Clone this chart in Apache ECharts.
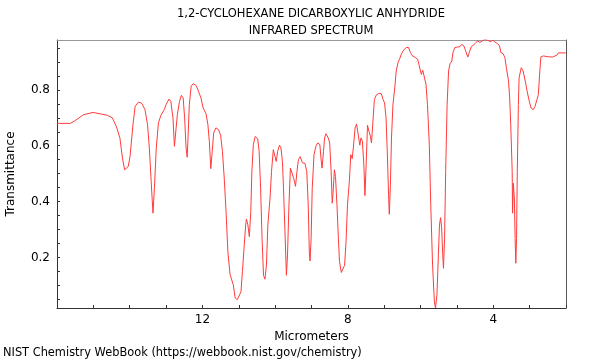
<!DOCTYPE html>
<html>
<head>
<meta charset="utf-8">
<script src="https://cdn.jsdelivr.net/npm/echarts@6/dist/echarts.min.js"></script>
<style>html,body{margin:0;padding:0;background:#fff}#c{width:600px;height:360px}</style>
</head>
<body>
<div id="c"></div>
<script>
// Wavelength (micrometers) and transmittance
const wavelength = [
16.00,15.63,15.50,15.27,15.01,14.81,14.62,14.48,14.37,14.27,14.20,14.14,14.09,14.04,13.99,
13.91,13.85,13.76,13.67,13.58,13.51,13.46,13.41,13.36,13.32,13.27,13.21,13.14,13.05,13.00,
12.92,12.87,12.81,12.77,12.73,12.69,12.63,12.58,12.53,12.49,12.45,12.42,12.40,12.36,12.31,
12.25,12.17,12.11,12.04,11.98,11.90,11.85,11.81,11.77,11.73,11.69,11.63,11.56,11.50,11.45,
11.40,11.35,11.30,11.24,11.19,11.15,11.10,11.04,10.99,10.94,10.90,10.85,10.81,10.79,10.75,
10.71,10.67,10.64,10.60,10.55,10.48,10.44,10.40,10.36,10.32,10.28,10.24,10.20,10.14,10.10,
10.05,10.01,9.97,9.93,9.88,9.84,9.80,9.77,9.73,9.69,9.66,9.62,9.58,9.55,9.49,
9.44,9.40,9.36,9.31,9.25,9.18,9.13,9.09,9.06,9.04,9.01,8.98,8.93,8.88,8.83,
8.77,8.74,8.71,8.67,8.64,8.60,8.54,8.50,8.46,8.43,8.41,8.37,8.34,8.30,8.26,
8.23,8.18,8.14,8.09,8.05,8.01,7.96,7.92,7.88,7.85,7.80,7.76,7.73,7.67,7.64,
7.60,7.56,7.53,7.49,7.46,7.42,7.38,7.35,7.31,7.27,7.22,7.15,7.08,7.03,6.99,
6.95,6.91,6.88,6.86,6.83,6.80,6.76,6.71,6.67,6.62,6.58,6.53,6.48,6.40,6.33,
6.28,6.22,6.14,6.08,6.03,5.98,5.94,5.90,5.85,5.81,5.76,5.72,5.67,5.62,5.59,
5.55,5.51,5.48,5.45,5.42,5.39,5.37,5.34,5.31,5.27,5.23,5.19,5.14,5.11,5.06,
4.98,4.92,4.87,4.81,4.76,4.70,4.66,4.61,4.56,4.50,4.43,4.37,4.30,4.23,4.16,
4.08,4.01,3.95,3.88,3.83,3.79,3.73,3.68,3.64,3.58,3.55,3.52,3.48,3.47,3.45,
3.42,3.40,3.38,3.36,3.34,3.31,3.29,3.23,3.18,3.12,3.07,3.01,2.96,2.90,2.85,
2.80,2.76,2.72,2.69,2.62,2.48,2.37,2.32,2.25,2.21,2.12,2.01
];
const transmittance = [
0.680,0.680,0.690,0.711,0.719,0.714,0.709,0.700,0.670,0.628,0.556,0.514,0.508,0.526,0.562,
0.676,0.741,0.756,0.752,0.729,0.676,0.592,0.473,0.359,0.448,0.592,0.682,0.709,0.729,0.747,
0.767,0.759,0.700,0.598,0.604,0.711,0.759,0.780,0.771,0.700,0.592,0.559,0.616,0.747,0.813,
0.822,0.815,0.795,0.771,0.735,0.714,0.676,0.616,0.518,0.580,0.646,0.664,0.658,0.638,0.580,
0.484,0.365,0.221,0.140,0.135,0.102,0.056,0.050,0.056,0.078,0.150,0.245,0.317,0.338,0.317,
0.275,0.365,0.508,0.604,0.633,0.625,0.580,0.448,0.269,0.137,0.123,0.173,0.317,0.413,0.508,
0.586,0.592,0.544,0.580,0.602,0.592,0.544,0.448,0.293,0.137,0.209,0.389,0.520,0.514,0.484,
0.455,0.508,0.550,0.561,0.539,0.537,0.508,0.389,0.221,0.188,0.269,0.448,0.568,0.598,0.610,
0.604,0.556,0.520,0.580,0.628,0.643,0.628,0.610,0.508,0.395,0.425,0.514,0.490,0.389,0.269,
0.186,0.147,0.150,0.173,0.257,0.389,0.470,0.568,0.554,0.592,0.664,0.678,0.652,0.602,0.628,
0.616,0.532,0.422,0.556,0.673,0.652,0.634,0.610,0.688,0.765,0.781,0.787,0.786,0.765,0.753,
0.700,0.556,0.425,0.355,0.460,0.628,0.747,0.807,0.867,0.897,0.909,0.927,0.939,0.951,0.951,
0.933,0.921,0.915,0.909,0.903,0.855,0.870,0.869,0.819,0.747,0.604,0.389,0.173,0.042,0.020,
0.066,0.209,0.317,0.343,0.305,0.209,0.162,0.269,0.508,0.747,0.867,0.893,0.903,0.933,0.951,
0.953,0.954,0.962,0.957,0.939,0.917,0.933,0.953,0.957,0.965,0.975,0.969,0.975,0.980,0.977,
0.972,0.977,0.970,0.965,0.957,0.933,0.929,0.915,0.879,0.831,0.771,0.676,0.508,0.359,0.466,
0.413,0.269,0.180,0.269,0.508,0.747,0.843,0.879,0.867,0.831,0.795,0.759,0.735,0.729,0.741,
0.765,0.783,0.867,0.918,0.921,0.918,0.917,0.915,0.924,0.932,0.932,0.932
];
const xTickValues = [2,3,4,5,6,7,8,9,10,11,12,13,14,15,16];
const xLabelValues = [4,8,12];
const yTickValues = [0.05,0.1,0.15,0.2,0.25,0.3,0.35,0.4,0.45,0.5,0.55,0.6,0.65,0.7,0.75,0.8,0.85,0.9,0.95];
const yLabelValues = [0.2,0.4,0.6,0.8];

const points = wavelength.map((w, i) => [w, transmittance[i]]);
const FONT = 'DejaVu Sans';
const chart = echarts.init(document.getElementById('c'), null, {renderer: 'canvas'});
chart.setOption({
  animation: false,
  backgroundColor: '#fff',
  title: [
    {text: '1,2-CYCLOHEXANE DICARBOXYLIC ANHYDRIDE\nINFRARED SPECTRUM', left: 311, top: 6, padding: 0, textAlign: 'center',
     textStyle: {fontFamily: FONT, fontSize: 11.5, fontWeight: 'normal', color: '#000', lineHeight: 17}},
    {text: 'NIST Chemistry WebBook (https://webbook.nist.gov/chemistry)', left: 3, top: 348, padding: 0,
     textStyle: {fontFamily: FONT, fontSize: 11.4, fontWeight: 'normal', color: '#000'}}
  ],
  grid: {left: 57, right: 34, top: 40, bottom: 52, containLabel: false, outerBoundsMode: 'none'},
  xAxis: [
    {type: 'value', min: 2, max: 16, inverse: true, position: 'bottom',
     name: 'Micrometers', nameLocation: 'middle', nameGap: 16,
     nameTextStyle: {fontFamily: FONT, fontSize: 12, color: '#000'},
     axisLine: {show: true, lineStyle: {color: '#333', width: 1}},
     axisTick: {show: true, inside: true, length: 3, customValues: xTickValues, lineStyle: {color: '#333'}},
     axisLabel: {customValues: xLabelValues, fontFamily: FONT, fontSize: 12, color: '#000', margin: 6},
     splitLine: {show: false}},
    {type: 'value', min: 2, max: 16, inverse: true, position: 'top',
     axisLine: {show: true, onZero: false, lineStyle: {color: '#999', width: 1}},
     axisTick: {show: false}, axisLabel: {show: false}, splitLine: {show: false}}
  ],
  yAxis: [
    {type: 'value', min: 0.02, max: 0.978, position: 'left',
     name: 'Transmittance', nameLocation: 'middle', nameGap: 40, nameRotate: 90,
     nameTextStyle: {fontFamily: FONT, fontSize: 12, color: '#000'},
     axisLine: {show: true, onZero: false, lineStyle: {color: '#333', width: 1}},
     axisTick: {show: true, inside: true, length: 3, customValues: yTickValues, lineStyle: {color: '#333'}},
     axisLabel: {customValues: yLabelValues, fontFamily: FONT, fontSize: 12, color: '#000', margin: 7,
                 formatter: v => v.toFixed(1)},
     splitLine: {show: false}},
    {type: 'value', min: 0.02, max: 0.978, position: 'right',
     axisLine: {show: true, onZero: false, lineStyle: {color: '#555', width: 1}},
     axisTick: {show: false}, axisLabel: {show: false}, splitLine: {show: false}}
  ],
  series: [{
    type: 'line', data: points, xAxisIndex: 0, yAxisIndex: 0,
    showSymbol: false, smooth: false, clip: true,
    lineStyle: {color: '#ff3b3b', width: 1}
  }]
});
</script>
</body>
</html>
